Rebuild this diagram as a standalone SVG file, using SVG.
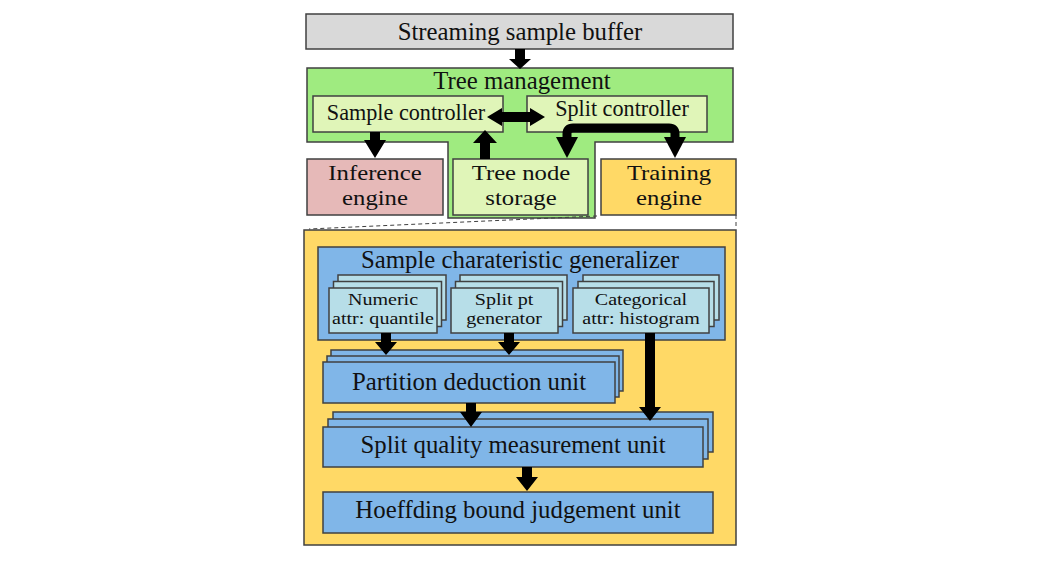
<svg xmlns="http://www.w3.org/2000/svg" width="1058" height="561" viewBox="0 0 1058 561">
<style>
.box{stroke:#404040;stroke-width:1.5}
.t{font-family:"Liberation Serif","Times New Roman",serif;fill:#111;text-anchor:middle}
.big{font-size:24.8px}
.two{font-size:21.5px}
.mid{font-size:22.2px}
.sm{font-size:17px}
.arr{fill:#000}
.dash{stroke:#404040;stroke-width:1;stroke-dasharray:4 3;fill:none}
</style>
<rect width="1058" height="561" fill="#fff"/>
<g id="buffer">
<rect class="box" x="306" y="14" width="427" height="35" fill="#d9d9d9"/>
<text class="t big" x="520" y="40">Streaming sample buffer</text>
</g>
<g id="tree-management">
<polygon class="box" points="307,68 733,68 733,142 595,142 595,218 448,218 448,142 307,142" fill="#9feb80"/>
<text class="t big" x="522" y="89">Tree management</text>
</g>
<g id="sample-controller">
<rect class="box" x="313" y="96" width="190" height="36" fill="#e0f5b8"/>
<text class="t mid" x="406" y="120">Sample controller</text>
</g>
<g id="split-controller">
<rect class="box" x="527" y="96" width="180" height="36" fill="#e0f5b8"/>
<text class="t mid" x="622" y="116">Split controller</text>
</g>
<g id="inference-engine">
<rect class="box" x="307" y="159" width="136" height="56" fill="#e6b9b8"/>
<text class="t two" transform="translate(375,180) scale(1.15,1)">Inference</text>
<text class="t two" transform="translate(375,205) scale(1.15,1)">engine</text>
</g>
<g id="tree-node-storage">
<rect class="box" x="453" y="159" width="135" height="56" fill="#e0f5b8"/>
<text class="t two" transform="translate(521,180) scale(1.15,1)">Tree node</text>
<text class="t two" transform="translate(521,205) scale(1.15,1)">storage</text>
</g>
<g id="training-engine">
<rect class="box" x="601" y="159" width="135" height="56" fill="#ffd966"/>
<text class="t two" transform="translate(669,180) scale(1.15,1)">Training</text>
<text class="t two" transform="translate(669,205) scale(1.15,1)">engine</text>
</g>
<g id="zoom-lines">
<line class="dash" x1="597" y1="216" x2="309" y2="229"/>
<line class="dash" x1="736" y1="215" x2="736" y2="229"/>
</g>
<g id="training-detail">
<rect class="box" x="304" y="230" width="432" height="315" fill="#ffd966"/>
</g>
<g id="generalizer">
<rect class="box" x="318" y="247" width="407" height="93" fill="#80b6e8"/>
<text class="t big" x="520" y="268">Sample charateristic generalizer</text>
</g>
<g id="numeric-attr">
<rect class="box" x="338" y="275" width="108" height="45" fill="#b7dee8"/>
<rect class="box" x="333.5" y="281.5" width="108" height="45" fill="#b7dee8"/>
<rect class="box" x="329" y="288" width="108" height="45" fill="#b7dee8"/>
<text class="t sm" transform="translate(383,305) scale(1.18,1)">Numeric</text>
<text class="t sm" transform="translate(383,324) scale(1.18,1)">attr: quantile</text>
</g>
<g id="split-pt-generator">
<rect class="box" x="460" y="275" width="107" height="45" fill="#b7dee8"/>
<rect class="box" x="455.5" y="281.5" width="107" height="45" fill="#b7dee8"/>
<rect class="box" x="451" y="288" width="107" height="45" fill="#b7dee8"/>
<text class="t sm" transform="translate(504,305) scale(1.18,1)">Split pt</text>
<text class="t sm" transform="translate(504,324) scale(1.18,1)">generator</text>
</g>
<g id="categorical-attr">
<rect class="box" x="583" y="275" width="136" height="45" fill="#b7dee8"/>
<rect class="box" x="578" y="281.5" width="136" height="45" fill="#b7dee8"/>
<rect class="box" x="573" y="288" width="136" height="45" fill="#b7dee8"/>
<text class="t sm" transform="translate(641,305) scale(1.18,1)">Categorical</text>
<text class="t sm" transform="translate(641,324) scale(1.18,1)">attr: histogram</text>
</g>
<g id="partition-deduction">
<rect class="box" x="331" y="350" width="292" height="41" fill="#80b6e8"/>
<rect class="box" x="327" y="356" width="292" height="41" fill="#80b6e8"/>
<rect class="box" x="323" y="362" width="292" height="41" fill="#80b6e8"/>
<text class="t big" x="469" y="390">Partition deduction unit</text>
</g>
<g id="split-quality">
<rect class="box" x="333" y="412" width="380" height="40" fill="#80b6e8"/>
<rect class="box" x="328" y="419" width="380" height="40" fill="#80b6e8"/>
<rect class="box" x="323" y="427" width="380" height="40" fill="#80b6e8"/>
<text class="t big" x="513" y="453">Split quality measurement unit</text>
</g>
<g id="hoeffding">
<rect class="box" x="323" y="492" width="390" height="41" fill="#80b6e8"/>
<text class="t big" x="518" y="518">Hoeffding bound judgement unit</text>
</g>
<g id="connectors">
<polygon class="arr" points="515,49 525,49 525,59 531,59 520,69 509,59 515,59"/>
<polygon class="arr" points="487,117 502,108 502,112 530,112 530,108 545,117 530,126 530,122 502,122 502,126"/>
<polygon class="arr" points="370,132 380,132 380,140 386,140 375,158 364,140 370,140"/>
<polygon class="arr" points="480,159 490,159 490,143 497,143 485,130 473,143 480,143"/>
<path d="M567,140 V134 Q567,128 573,128 H669 Q675,128 675,134 V140" fill="none" stroke="#000" stroke-width="9"/>
<polygon class="arr" points="556,137 578,137 567,158"/>
<polygon class="arr" points="664,137 686,137 675,158"/>
<polygon class="arr" points="381,333 391,333 391,342 397,342 386,355 375,342 381,342"/>
<polygon class="arr" points="504,333 514,333 514,342 520,342 509,355 498,342 504,342"/>
<polygon class="arr" points="645,333 655,333 655,407 661,407 650,421 639,407 645,407"/>
<polygon class="arr" points="466,403 476,403 476,412 482,412 471,427 460,412 466,412"/>
<polygon class="arr" points="522,467 532,467 532,477 538,477 527,491 516,477 522,477"/>
</g>
</svg>
